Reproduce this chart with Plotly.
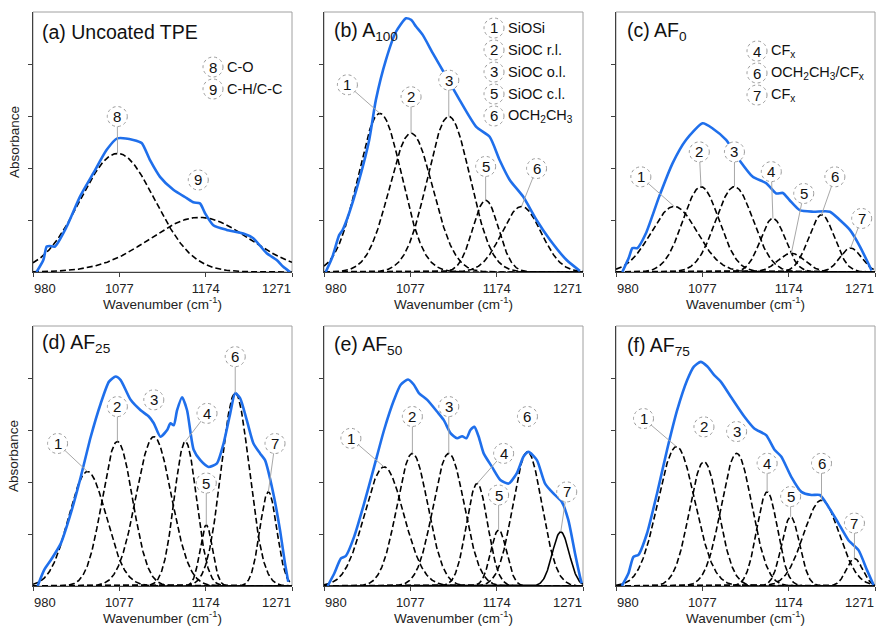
import numpy as np
import plotly.graph_objects as go

# ---------------- DATA ----------------
x_tick_vals = [980, 1077, 1174, 1271]
x_tick_labels = ["980", "1077", "1174", "1271"]
panel_titles = ["(a) Uncoated TPE", "(b) A<sub>100</sub>", "(c) AF<sub>0</sub>",
                "(d) AF<sub>25</sub>", "(e) AF<sub>50</sub>", "(f) AF<sub>75</sub>"]

# measured spectra (blue)
a_wn = [984, 991.6, 995.4, 999, 1004.7, 1017.8, 1032.8, 1047.8, 1062.8, 1074.7, 1092.7, 1102.1, 1111.5,
        1122.7, 1137.7, 1152.7, 1160.2, 1167.6, 1173.3, 1182.6, 1197.6, 1216.3, 1227.5, 1242.6, 1253.8, 1261.2, 1268.8]
a_abs = [0, 0.23, 0.49, 0.50, 0.49, 0.87, 1.45, 1.90, 2.35, 2.57, 2.54, 2.48, 2.15,
         1.83, 1.58, 1.42, 1.34, 1.32, 1.13, 0.90, 0.81, 0.74, 0.65, 0.36, 0.23, 0.10, 0]

b_wn = [981.9, 989.4, 997, 1000.7, 1008.2, 1019.5, 1030.8, 1038.3, 1049.6, 1060.9, 1072.2, 1077.8, 1083.4,
        1090.9, 1102.2, 1117.3, 1132.3, 1151.1, 1166.1, 1177.4, 1188.7, 1203.7, 1218.8, 1233.8, 1252.6, 1267.6]
b_abs = [0, 0.29, 0.71, 0.80, 1.13, 1.77, 2.54, 3.31, 4.08, 4.62, 4.88, 4.85, 4.72,
         4.56, 4.21, 3.76, 3.31, 2.79, 2.60, 2.15, 1.77, 1.45, 1.0, 0.62, 0.23, 0.02]

c_wn = [987.1, 994.7, 998.4, 1004, 1013.5, 1028.5, 1043.5, 1058.6, 1077.4, 1088.6, 1103.7, 1118.7, 1133.7,
        1148.7, 1160, 1167.5, 1175.1, 1186.4, 1201.4, 1220.3, 1231.5, 1242.8, 1254.1, 1267.2]
c_abs = [0, 0.29, 0.46, 0.46, 0.74, 1.45, 2.09, 2.54, 2.86, 2.76, 2.54, 2.15, 1.83,
         1.71, 1.51, 1.52, 1.38, 1.19, 1.16, 1.16, 1.0, 0.81, 0.49, 0.03]

d_wn = [985.2, 992.6, 1000.1, 1011.3, 1022.5, 1033.7, 1044.9, 1056.1, 1065.4, 1072.9, 1078.5, 1089.7, 1100.9,
        1110.1, 1115.7, 1123.2, 1130.7, 1134.4, 1138.1, 1141.9, 1147.5, 1153.1, 1160.5, 1168, 1177.3, 1186.7,
        1194.1, 1201.6, 1207.2, 1212.8, 1220.2, 1227.7, 1235.1, 1240.7, 1250, 1257.5, 1263.1, 1266.8]
d_abs = [0, 0.31, 0.5, 0.82, 1.40, 2.10, 2.87, 3.51, 3.93, 4.03, 3.96, 3.58, 3.38,
         3.26, 3.13, 2.87, 3.0, 3.13, 3.09, 3.38, 3.63, 3.38, 2.62, 2.42, 2.29, 2.36,
         2.74, 3.32, 3.71, 3.61, 3.19, 2.74, 2.55, 2.42, 1.78, 1.08, 0.44, 0.08]

e_wn = [984.1, 991.5, 999, 1004.6, 1013.9, 1025.1, 1036.3, 1047.5, 1058.7, 1066.2, 1074.4, 1081, 1086.6,
        1096, 1107.2, 1114.6, 1122.1, 1129.6, 1135.2, 1140, 1144.5, 1149, 1153.8, 1159.4, 1168.8, 1178.1,
        1187.4, 1196.7, 1204.2, 1209.8, 1219.2, 1228.4, 1237.7, 1247.1, 1254.5, 1262, 1267.6, 1269.5]
e_abs = [0, 0.24, 0.53, 0.58, 0.95, 1.59, 2.29, 3.0, 3.58, 3.87, 3.97, 3.87, 3.71,
         3.58, 3.35, 3.19, 2.94, 2.84, 2.88, 2.84, 3.0, 3.06, 2.87, 2.55, 2.29, 2.04,
         1.97, 2.17, 2.49, 2.58, 2.42, 1.97, 1.78, 1.62, 1.27, 0.63, 0.18, 0.05]

f_wn = [986.5, 993.9, 999.6, 1005.2, 1014.8, 1026.1, 1037.4, 1048.7, 1060, 1067.5, 1075.1, 1082.7, 1090.1,
        1097.7, 1109, 1124.1, 1135.4, 1148.7, 1158.1, 1165.6, 1176.9, 1188.3, 1199.6, 1209, 1218.5, 1229.8,
        1241.2, 1252.5, 1261.9, 1269.4]
f_abs = [0, 0.24, 0.56, 0.60, 1.01, 1.78, 2.62, 3.38, 3.96, 4.22, 4.31, 4.22, 4.06,
         3.93, 3.64, 3.26, 3.03, 2.90, 2.62, 2.49, 2.10, 1.81, 1.75, 1.75, 1.53, 1.21,
         0.88, 0.69, 0.31, 0.02]

# fitted Gaussian components: id, centre, height, sigma
a_ids = [8, 9];            a_cen = [1075, 1167];       a_hgt = [2.28, 1.05];  a_sig = [42, 56]
b_ids = [1, 2, 3, 5, 6];   b_cen = [1042.8, 1077.8, 1120.2, 1161.6, 1201.9]
b_hgt = [3.05, 2.67, 2.99, 1.38, 1.26];                b_sig = [24.5, 24.4, 24, 14.5, 22]
c_ids = [1, 2, 3, 4, 5, 6, 7]
c_cen = [1045.4, 1075.5, 1113.1, 1156.3, 1177, 1210.9, 1243.6]
c_hgt = [1.26, 1.64, 1.64, 1.03, 0.36, 1.10, 0.46]
c_sig = [26, 20.3, 21, 14, 15, 14.4, 12]
d_ids = [1, 2, 3, 4, 5, 6, 7]
d_cen = [1041.2, 1074.8, 1115.7, 1151.2, 1174.7, 1207.2, 1244.4]
d_hgt = [2.20, 2.78, 2.87, 2.78, 1.17, 3.71, 1.81]
d_sig = [21, 17, 19.8, 12.5, 7, 15.8, 9.5]
e_ids = [1, 2, 3, 4, 5, 6, 7]
e_cen = [1047.5, 1079.3, 1120.2, 1152, 1176.2, 1208.6, 1246]
e_hgt = [2.29, 2.55, 2.55, 1.97, 1.08, 2.58, 1.04]
e_sig = [22, 17.4, 17.5, 11.9, 8.9, 16.3, 9.5]
f_ids = [1, 2, 3, 4, 5, 6, 7]
f_cen = [1047.9, 1078.8, 1115.5, 1149.8, 1176.2, 1210.9, 1247.9]
f_hgt = [2.68, 2.39, 2.55, 1.81, 1.33, 1.65, 0.53]
f_sig = [20.8, 16.4, 17.3, 11.6, 10.1, 20, 9]

# band assignment legends
a_leg_ids = ["8", "9"];  a_leg_txt = ["C-O", "C-H/C-C"]
b_leg_ids = ["1", "2", "3", "5", "6"]
b_leg_txt = ["SiOSi", "SiOC r.l.", "SiOC o.l.", "SiOC c.l.", "OCH<sub>2</sub>CH<sub>3</sub>"]
c_leg_ids = ["4", "6", "7"]
c_leg_txt = ["CF<sub>x</sub>", "OCH<sub>2</sub>CH<sub>3</sub>/CF<sub>x</sub>", "CF<sub>x</sub>"]

# ---------------- LAYOUT CONFIG ----------------
W, H = 880, 628
col_px = [(33, 292), (324, 583), (616, 875)]
row_px = [(12, 272), (326, 586)]
FONT = "Arial, 'Liberation Sans', sans-serif"
BLUE = "#1F6FEB"
R_CIRC = 10
TICKFONT = dict(family=FONT, size=13, color="#222")

# label circle positions in data coords (wn, abs) and whether a leader line is drawn
label_pos = [
    {8: (1074.7, 2.99, True), 9: (1165.7, 1.77, False)},
    {1: (1006.3, 3.60, True), 2: (1077.8, 3.37, True), 3: (1120.2, 3.69, True),
     5: (1161.6, 2.03, True), 6: (1218.8, 1.99, True)},
    {1: (1007.9, 1.83, True), 2: (1073.6, 2.31, True), 3: (1113.1, 2.31, True), 4: (1154.5, 1.93, True),
     5: (1190.9, 1.51, True), 6: (1225.9, 1.83, True), 7: (1256, 1.03, True)},
    {1: (1007.6, 2.74, True), 2: (1074.8, 3.45, True), 3: (1115.7, 3.58, False), 4: (1175.5, 3.32, True),
     5: (1174.7, 1.98, True), 6: (1207.2, 4.41, True), 7: (1251.9, 2.74, True)},
    {1: (1010.2, 2.84, True), 2: (1079.3, 3.26, True), 3: (1120.2, 3.45, True), 4: (1181.8, 2.55, True),
     5: (1176.2, 1.75, True), 6: (1208.6, 3.26, False), 7: (1252.7, 1.81, True)},
    {1: (1010.9, 3.22, True), 2: (1078.8, 3.06, False), 3: (1115.5, 2.97, False), 4: (1149.8, 2.36, True),
     5: (1176.2, 1.72, True), 6: (1210.9, 2.36, True), 7: (1247.9, 1.21, True)},
]
legend_pos = [(213, [67, 89]), (494, [28, 50, 72, 94, 116]), (757, [51, 73, 95]), None, None, None]
title_pos = [(40, 32), (332, 32), (625, 31), (40, 343), (332, 345), (625, 346)]

spectra = [(a_wn, a_abs), (b_wn, b_abs), (c_wn, c_abs), (d_wn, d_abs), (e_wn, e_abs), (f_wn, f_abs)]
comps = [(a_ids, a_cen, a_hgt, a_sig), (b_ids, b_cen, b_hgt, b_sig), (c_ids, c_cen, c_hgt, c_sig),
         (d_ids, d_cen, d_hgt, d_sig), (e_ids, e_cen, e_hgt, e_sig), (f_ids, f_cen, f_hgt, f_sig)]
legends = [(a_leg_ids, a_leg_txt), (b_leg_ids, b_leg_txt), (c_leg_ids, c_leg_txt), None, None, None]
solid_comp = {(4, 7)}  # panel (e) peak 7 drawn solid

fig = go.Figure()
shapes, annots = [], []
layout = {}
grid = np.linspace(980, 1271, 500)


def px2paper_x(p):
    return p / W


def px2paper_y(p):
    return 1 - p / H


for i in range(6):
    r, c = divmod(i, 3)
    sfx = "" if i == 0 else str(i + 1)
    xa, ya = "x" + sfx, "y" + sfx
    x0p, x1p = col_px[c]
    y0p, y1p = row_px[r]
    # x axis: ticks at all values, centred labels for the inner ones
    inner_text = ["", x_tick_labels[1], x_tick_labels[2], ""]
    layout["xaxis" + sfx] = dict(
        domain=[px2paper_x(x0p), px2paper_x(x1p)], range=[980, 1271], anchor=ya,
        tickvals=x_tick_vals, ticktext=inner_text, ticks="outside", ticklen=4,
        tickcolor="#404040", showline=True, linecolor="#404040", linewidth=1, showgrid=False,
        zeroline=False, tickfont=TICKFONT, automargin=False,
    )
    # end tick labels kept inside the frame (left / right aligned), as in the reference
    annots.append(dict(x=x_tick_vals[0], xref=xa, y=px2paper_y(y1p + 16), yref="paper",
                       text=x_tick_labels[0], showarrow=False, xanchor="left", yanchor="middle",
                       xshift=-1, font=TICKFONT))
    annots.append(dict(x=x_tick_vals[3], xref=xa, y=px2paper_y(y1p + 16), yref="paper",
                       text=x_tick_labels[3], showarrow=False, xanchor="right", yanchor="middle",
                       xshift=1, font=TICKFONT))
    layout["yaxis" + sfx] = dict(
        domain=[px2paper_y(y1p), px2paper_y(y0p)], range=[0, 5], anchor=xa,
        tickvals=[1, 2, 3, 4], ticks="outside", ticklen=4, tickcolor="#404040",
        showticklabels=False, showline=True, linecolor="#404040", linewidth=1,
        showgrid=False, zeroline=False, automargin=False,
    )
    # frame
    shapes.append(dict(type="rect", xref="paper", yref="paper", x0=px2paper_x(x0p), x1=px2paper_x(x1p),
                       y0=px2paper_y(y1p), y1=px2paper_y(y0p), line=dict(color="#A0A0A0", width=1),
                       layer="below"))

    ids, cen, hgt, sig = comps[i]
    # components
    for k in range(len(ids)):
        yv = hgt[k] * np.exp(-(grid - cen[k]) ** 2 / (2 * sig[k] ** 2))
        solid = (i, ids[k]) in solid_comp
        fig.add_trace(go.Scatter(x=grid, y=yv, mode="lines", xaxis=xa, yaxis=ya,
                                 line=dict(color="black", width=1.6, dash="solid" if solid else "6px,3px"),
                                 showlegend=False, hoverinfo="skip"))
    # spectrum
    wn, ab = spectra[i]
    fig.add_trace(go.Scatter(x=wn, y=ab, mode="lines", xaxis=xa, yaxis=ya,
                             line=dict(color=BLUE, width=2.6, shape="spline", smoothing=0.6),
                             showlegend=False, hoverinfo="skip"))

    # peak labels
    for k in range(len(ids)):
        pid = ids[k]
        lx, ly, lead = label_pos[i][pid]
        if lead:
            shapes.append(dict(type="line", xref=xa, yref=ya, x0=lx, y0=ly, x1=cen[k], y1=hgt[k],
                               line=dict(color="#A8A8A8", width=1), layer="above"))
        shapes.append(dict(type="circle", xref=xa, yref=ya, xsizemode="pixel", ysizemode="pixel",
                           xanchor=lx, yanchor=ly, x0=-R_CIRC, x1=R_CIRC, y0=-R_CIRC, y1=R_CIRC,
                           line=dict(color="#9A9A9A", width=1, dash="dot"), fillcolor="white",
                           layer="above"))
        annots.append(dict(x=lx, y=ly, xref=xa, yref=ya, text=str(pid), showarrow=False,
                           font=dict(family=FONT, size=15, color="#111"), xanchor="center",
                           yanchor="middle"))

    # legends
    if legends[i] is not None:
        lids, ltxt = legends[i]
        cx, cys = legend_pos[i]
        for lid, txt, cy in zip(lids, ltxt, cys):
            shapes.append(dict(type="circle", xref="paper", yref="paper", xsizemode="pixel",
                               ysizemode="pixel", xanchor=px2paper_x(cx), yanchor=px2paper_y(cy),
                               x0=-R_CIRC, x1=R_CIRC, y0=-R_CIRC, y1=R_CIRC,
                               line=dict(color="#9A9A9A", width=1, dash="dot"), fillcolor="white",
                               layer="above"))
            annots.append(dict(x=px2paper_x(cx), y=px2paper_y(cy), xref="paper", yref="paper",
                               text=lid, showarrow=False, xanchor="center", yanchor="middle",
                               font=dict(family=FONT, size=15, color="#111")))
            annots.append(dict(x=px2paper_x(cx + 12), y=px2paper_y(cy), xref="paper", yref="paper",
                               text=txt, showarrow=False, xanchor="left", yanchor="middle",
                               font=dict(family=FONT, size=14.5, color="#111")))

    # panel title
    tx, ty = title_pos[i]
    annots.append(dict(x=px2paper_x(tx), y=px2paper_y(ty), xref="paper", yref="paper",
                       text=panel_titles[i], showarrow=False, xanchor="left", yanchor="middle",
                       font=dict(family=FONT, size=19.5, color="#111")))
    # x-axis title
    annots.append(dict(x=px2paper_x((x0p + x1p) / 2), y=px2paper_y(y1p + 31), xref="paper", yref="paper",
                       text="Wavenumber (cm<sup>-1</sup>)", showarrow=False, xanchor="center",
                       yanchor="middle", font=dict(family=FONT, size=13.5, color="#222")))
    if c == 0:
        annots.append(dict(x=px2paper_x(14), y=px2paper_y((y0p + y1p) / 2), xref="paper", yref="paper",
                           text="Absorbance", showarrow=False, textangle=-90, xanchor="center",
                           yanchor="middle", font=dict(family=FONT, size=13.5, color="#222")))

fig.update_layout(width=W, height=H, margin=dict(l=0, r=0, t=0, b=0), plot_bgcolor="white",
                  paper_bgcolor="white", shapes=shapes, annotations=annots, showlegend=False, **layout)
fig.write_html("out.html")
